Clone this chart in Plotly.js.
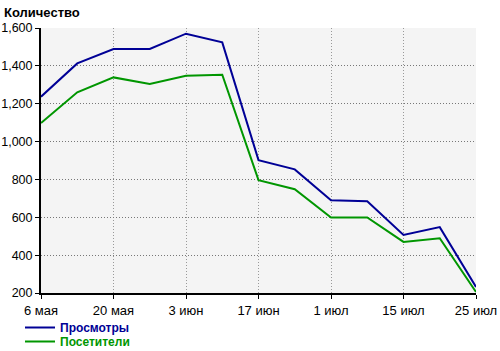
<!DOCTYPE html>
<html><head><meta charset="utf-8">
<script src="https://cdn.plot.ly/plotly-3.0.1.min.js"></script>
<style>html,body{margin:0;padding:0;background:#fff}#chart{width:500px;height:351px}</style>
</head><body><div id="chart"></div>
<script>
const dates = ['6 мая','13 мая','20 мая','27 мая','3 июн','10 июн','17 июн','24 июн','1 июл','8 июл','15 июл','22 июл','25 июл'];
const tickLabels = ['6 мая','20 мая','3 июн','17 июн','1 июл','15 июл','25 июл'];
const views = [1237,1413,1489,1489,1570,1524,902,853,690,685,507,548,232];
const visitors = [1098,1260,1339,1304,1348,1353,796,748,599,599,470,489,205];
const names = ['Просмотры','Посетители'];
const colors = ['#000096','#009600'];

const font = "'Liberation Sans', Arial, sans-serif";
const data = [
  {x: dates, y: views, type:'scatter', mode:'lines', name:'<b>'+names[0]+'</b>', line:{color:colors[0], width:2}, legend:'legend'},
  {x: dates, y: visitors, type:'scatter', mode:'lines', name:'<b>'+names[1]+'</b>', line:{color:colors[1], width:2}, legend:'legend2'}
];
const layout = {
  width:500, height:351,
  margin:{l:41, r:24, t:28, b:58, autoexpand:false},
  paper_bgcolor:'#fff', plot_bgcolor:'#f4f4f4',
  font:{family:font, size:12, color:'#000'},
  title:{text:'<b>Количество</b>', x:4/500, xanchor:'left', y:1-12/351, yanchor:'middle', font:{family:font, size:13, color:'#000'}},
  xaxis:{type:'category', tickvals:tickLabels, ticktext:tickLabels, range:[0,12],
    showgrid:true, gridcolor:'#999', griddash:'1px,2px', gridwidth:1,
    showline:true, linecolor:'#000', linewidth:2, ticks:'outside', ticklen:4, tickcolor:'#000',
    tickfont:{family:font, size:13}, zeroline:false, fixedrange:true},
  yaxis:{range:[200,1600], tickvals:[200,400,600,800,1000,1200,1400,1600], tickformat:',d',
    showgrid:true, gridcolor:'#777', griddash:'1px,2px', gridwidth:1,
    showline:true, linecolor:'#000', linewidth:2, ticks:'outside', ticklen:4, tickcolor:'#000',
    tickfont:{family:font, size:12.5}, zeroline:false, fixedrange:true},
  legend:{xref:'container', yref:'container', x:20/500, y:1-313/351, xanchor:'left', yanchor:'top',
    bgcolor:'rgba(0,0,0,0)', font:{family:font, size:12, color:colors[0]}, itemwidth:30},
  legend2:{xref:'container', yref:'container', x:20/500, y:1-327/351, xanchor:'left', yanchor:'top',
    bgcolor:'rgba(0,0,0,0)', font:{family:font, size:12, color:colors[1]}, itemwidth:30},
  showlegend:true
};
Plotly.newPlot('chart', data, layout, {displayModeBar:false, staticPlot:true});
</script></body></html>
